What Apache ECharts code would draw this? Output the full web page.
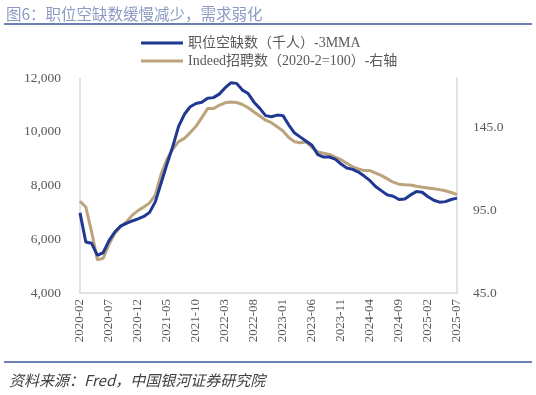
<!DOCTYPE html>
<html><head><meta charset="utf-8">
<script src="https://cdn.jsdelivr.net/npm/echarts@6/dist/echarts.min.js"></script>
<style>html,body{margin:0;padding:0;background:#fff}#c{width:536px;height:395px}</style>
</head><body><div id="c"></div>
<script>
// monthly categories 2020-02 .. 2025-07
const categories = [];
for (let y = 2020, m = 2; y < 2025 || (y === 2025 && m <= 7); ) {
  categories.push(y + '-' + String(m).padStart(2, '0'));
  m++; if (m > 12) { m = 1; y++; }
}
const seriesNames = ['职位空缺数（千人）-3MMA', 'Indeed招聘数（2020-2=100）-右轴'];
const vacancies = [6980,5900,5850,5400,5500,5950,6270,6490,6590,6680,6760,6850,7000,7400,8100,8800,9450,10200,10650,10930,11050,11100,11250,11270,11400,11630,11820,11800,11550,11420,11100,10870,10600,10560,10620,10600,10250,9950,9800,9650,9500,9150,9060,9060,8980,8800,8650,8600,8500,8350,8180,7950,7800,7650,7600,7480,7500,7650,7780,7750,7580,7450,7380,7400,7480,7530];
const indeed = [100.5,97,82,65,66,74.5,81,85.3,88,92,94.8,97,99.5,104.4,117,126,132,136.5,138.5,142,145.8,151,156.5,156.5,158.5,160,160.5,160.2,159,157,154.5,152,149.5,148,145.5,143,139,136.5,135.8,136.3,133,130.3,129.5,128.8,127.2,125.6,123.5,121.3,120,119,119,117.5,116,114,112,110.8,110.5,110.3,109.5,109,108.5,108,107.5,106.8,105.8,104.5];
const leftTicks = {min: 4000, max: 12000, interval: 2000};
const rightTicks = {min: 45, max: 175, interval: 50};
const titleText = '图6：职位空缺数缓慢减少，需求弱化';
const sourceText = '资料来源：Fred，中国银河证券研究院';

const serif = "'Liberation Serif','Noto Sans CJK SC',serif";
const chart = echarts.init(document.getElementById('c'));
chart.setOption({
  animation: false,
  backgroundColor: '#fff',
  title: [
    {text: titleText, left: 1, top: 1, textStyle: {fontFamily: "'Noto Sans CJK SC'", fontSize: 15.5, fontWeight: 'normal', color: '#8c9bc3'}},
    {text: sourceText, left: 4, top: 368, textStyle: {fontFamily: "'Noto Sans CJK SC'", fontSize: 15, fontWeight: 'normal', fontStyle: 'italic', color: '#404040'}}
  ],
  graphic: [
    {type: 'rect', shape: {x: 4, y: 23, width: 528, height: 2}, style: {fill: '#6d80b3'}},
    {type: 'rect', shape: {x: 4, y: 361, width: 528, height: 2}, style: {fill: '#6d80b3'}}
  ],
  legend: {
    left: 136, top: 31, orient: 'vertical', itemGap: 4, itemWidth: 42, itemHeight: 3,
    icon: 'rect',
    textStyle: {fontFamily: serif, fontSize: 14, color: '#595959'},
    data: seriesNames
  },
  grid: {left: 80, right: 79, top: 78, bottom: 102},
  xAxis: {
    type: 'category', data: categories, boundaryGap: false,
    axisLine: {lineStyle: {color: '#d9d9d9', width: 1.5}},
    axisTick: {show: false},
    axisLabel: {interval: 4, rotate: 90, fontFamily: serif, fontSize: 13, color: '#595959', margin: 6}
  },
  yAxis: [
    {type: 'value', min: leftTicks.min, max: leftTicks.max, interval: leftTicks.interval,
     axisLine: {show: true, lineStyle: {color: '#d9d9d9', width: 1.5}}, axisTick: {show: false}, splitLine: {show: false},
     axisLabel: {fontFamily: serif, fontSize: 13.5, color: '#595959', margin: 19,
       formatter: v => v.toLocaleString('en-US')}},
    {type: 'value', min: rightTicks.min, max: rightTicks.max, interval: rightTicks.interval,
     position: 'right',
     axisLine: {show: true, lineStyle: {color: '#d9d9d9', width: 1.5}}, axisTick: {show: false}, splitLine: {show: false},
     axisLabel: {fontFamily: serif, fontSize: 13.5, color: '#595959', margin: 16, showMaxLabel: false,
       formatter: v => v === rightTicks.max ? '' : v.toFixed(1)}}
  ],
  series: [
    {name: seriesNames[0], type: 'line', data: vacancies, yAxisIndex: 0, symbol: 'none',
     lineStyle: {color: '#1f3893', width: 3}, itemStyle: {color: '#1f3893'}, z: 3},
    {name: seriesNames[1], type: 'line', data: indeed, yAxisIndex: 1, symbol: 'none',
     lineStyle: {color: '#bba47c', width: 3}, itemStyle: {color: '#bba47c'}, z: 2}
  ]
});
</script></body></html>
